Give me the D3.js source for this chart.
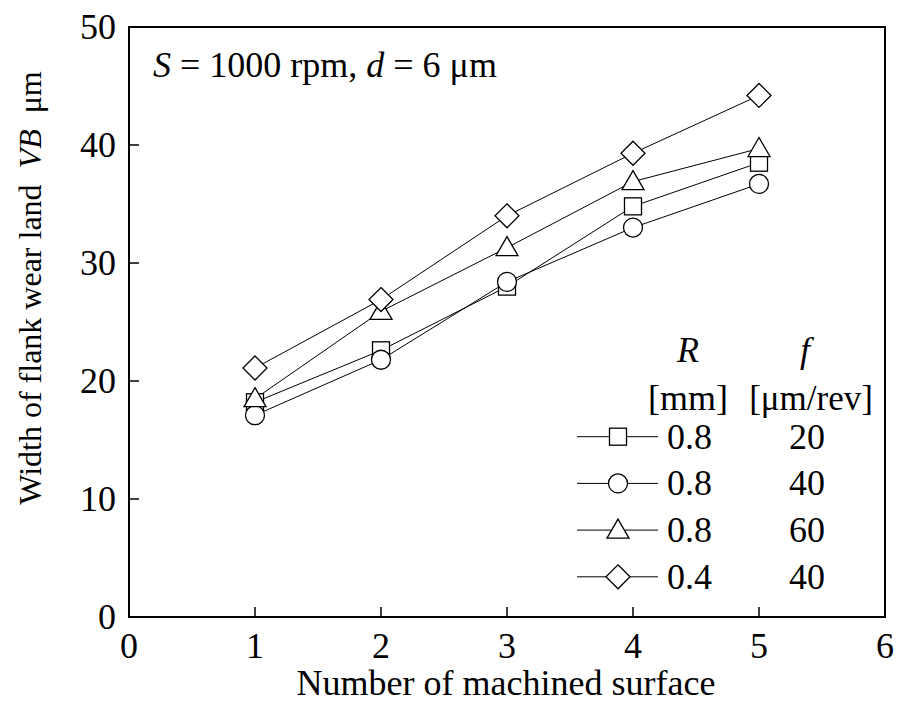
<!DOCTYPE html>
<html>
<head>
<meta charset="utf-8">
<script src="https://cdn.jsdelivr.net/npm/d3@7"></script>
<style>
  body { margin: 0; background: #fff; }
  text { font-family: 'Liberation Serif', 'DejaVu Serif', serif; }
</style>
</head>
<body>
<svg id="chart" width="901" height="711"></svg>
<script>
var surfaces = [1, 2, 3, 4, 5];
var sqVals = [18.2, 22.6, 28.0, 34.8, 38.5];
var ciVals = [17.1, 21.8, 28.4, 33.0, 36.7];
var trVals = [18.5, 25.9, 31.3, 36.9, 39.7];
var diVals = [21.1, 26.9, 34.0, 39.3, 44.2];
var radii = ["0.8", "0.8", "0.8", "0.4"];
var feeds = ["20", "40", "60", "40"];
var xTicks = [0, 1, 2, 3, 4, 5, 6];
var yTicks = [0, 10, 20, 30, 40, 50];

var series = [
	{ vals: sqVals, shape: "square" },
	{ vals: ciVals, shape: "circle" },
	{ vals: trVals, shape: "triangle" },
	{ vals: diVals, shape: "diamond" }
];

var svg = d3.select('#chart');
var L = 129, R = 885, T = 27, B = 617;
var FS = '36px';

var x = d3.scaleLinear().domain([0, 6]).range([L, R]);
var y = d3.scaleLinear().domain([0, 50]).range([B, T]);

// frame
svg.append('rect')
	.attr('x', L).attr('y', T)
	.attr('width', R - L).attr('height', B - T)
	.attr('fill', 'none').attr('stroke', '#000').attr('stroke-width', 2);

// inward ticks
svg.append('g').selectAll('line').data(xTicks.slice(1, -1)).enter().append('line')
	.attr('x1', function (d) { return x(d); }).attr('x2', function (d) { return x(d); })
	.attr('y1', B).attr('y2', B - 10)
	.attr('stroke', '#000').attr('stroke-width', 1.5);
svg.append('g').selectAll('line').data(yTicks.slice(1, -1)).enter().append('line')
	.attr('x1', L).attr('x2', L + 10)
	.attr('y1', function (d) { return y(d); }).attr('y2', function (d) { return y(d); })
	.attr('stroke', '#000').attr('stroke-width', 1.5);

// tick labels
svg.append('g').selectAll('text').data(xTicks).enter().append('text')
	.attr('x', function (d) { return x(d); }).attr('y', 658)
	.attr('text-anchor', 'middle').style('font-size', FS)
	.text(function (d) { return d; });
svg.append('g').selectAll('text').data(yTicks).enter().append('text')
	.attr('x', 116).attr('y', function (d) { return y(d) + 12; })
	.attr('text-anchor', 'end').style('font-size', FS)
	.text(function (d) { return d; });

// axis titles
svg.append('text')
	.attr('x', 506).attr('y', 695)
	.attr('text-anchor', 'middle').style('font-size', FS)
	.text('Number of machined surface');

var yt = svg.append('text')
	.attr('transform', 'translate(41,288) rotate(-90)')
	.attr('text-anchor', 'middle').style('font-size', '32px');
yt.append('tspan').text('Width of flank wear land\u00a0\u00a0');
yt.append('tspan').attr('font-style', 'italic').text('VB');
yt.append('tspan').text('\u00a0\u00a0μm');

// annotation
var an = svg.append('text').attr('x', 153).attr('y', 77).style('font-size', FS);
an.append('tspan').attr('font-style', 'italic').text('S');
an.append('tspan').text(' = 1000 rpm, ');
an.append('tspan').attr('font-style', 'italic').text('d');
an.append('tspan').text(' = 6 μm');

function drawMarker(g, shape, cx, cy) {
	var m;
	if (shape === 'square') {
		m = g.append('rect').attr('x', cx - 8.5).attr('y', cy - 8.5).attr('width', 17).attr('height', 17);
	} else if (shape === 'circle') {
		m = g.append('circle').attr('cx', cx).attr('cy', cy).attr('r', 9.5);
	} else if (shape === 'triangle') {
		m = g.append('path').attr('d', 'M' + cx + ',' + (cy - 11) + 'L' + (cx + 11) + ',' + (cy + 8) + 'L' + (cx - 11) + ',' + (cy + 8) + 'Z');
	} else {
		m = g.append('path').attr('d', 'M' + cx + ',' + (cy - 12) + 'L' + (cx + 12) + ',' + cy + 'L' + cx + ',' + (cy + 12) + 'L' + (cx - 12) + ',' + cy + 'Z');
	}
	m.attr('fill', '#fff').attr('stroke', '#000').attr('stroke-width', 1.3);
}

var line = d3.line()
	.x(function (d, i) { return x(surfaces[i]); })
	.y(function (d) { return y(d); });

series.forEach(function (s) {
	svg.append('path').datum(s.vals)
		.attr('d', line)
		.attr('fill', 'none').attr('stroke', '#000').attr('stroke-width', 1);
});
series.forEach(function (s) {
	var g = svg.append('g');
	s.vals.forEach(function (v, i) { drawMarker(g, s.shape, x(surfaces[i]), y(v)); });
});

// legend
var leg = svg.append('g');
leg.append('text').attr('x', 688).attr('y', 362).attr('text-anchor', 'middle')
	.style('font-size', FS).attr('font-style', 'italic').text('R');
leg.append('text').attr('x', 805).attr('y', 362).attr('text-anchor', 'middle')
	.style('font-size', FS).attr('font-style', 'italic').text('f');
leg.append('text').attr('x', 688).attr('y', 410).attr('text-anchor', 'middle')
	.style('font-size', FS).text('[mm]');
leg.append('text').attr('x', 811).attr('y', 410).attr('text-anchor', 'middle')
	.style('font-size', '35px').text('[μm/rev]');

series.forEach(function (s, i) {
	var cy = 436.7 + i * 46.7;
	leg.append('line').attr('x1', 577).attr('x2', 658).attr('y1', cy).attr('y2', cy)
		.attr('stroke', '#000').attr('stroke-width', 1);
	drawMarker(leg, s.shape, 618, cy);
	leg.append('text').attr('x', 667).attr('y', cy + 12).style('font-size', FS).text(radii[i]);
	leg.append('text').attr('x', 807).attr('y', cy + 12).attr('text-anchor', 'middle')
		.style('font-size', FS).text(feeds[i]);
});
</script>
</body>
</html>
